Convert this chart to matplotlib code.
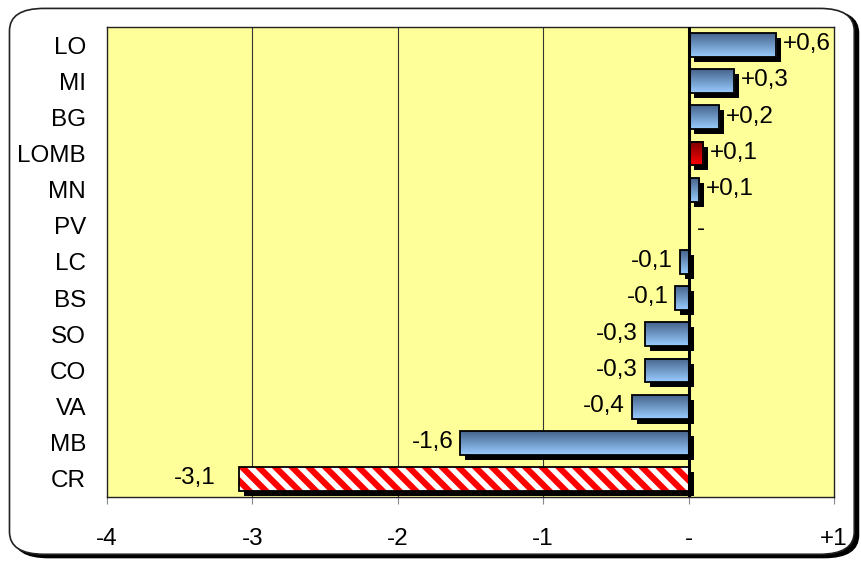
import numpy as np
import matplotlib
matplotlib.use('Agg')
import matplotlib.pyplot as plt
import matplotlib.transforms as mtransforms
from matplotlib.patches import FancyBboxPatch
from matplotlib.colors import LinearSegmentedColormap

plt.rcParams['font.family'] = ['Liberation Sans', 'DejaVu Sans']
plt.rcParams['hatch.linewidth'] = 4.0

# Dati
province = ['LO', 'MI', 'BG', 'LOMB', 'MN', 'PV', 'LC', 'BS', 'SO', 'CO', 'VA', 'MB', 'CR']
valori = [0.6, 0.31, 0.21, 0.10, 0.07, 0.0, -0.06, -0.09, -0.30, -0.30, -0.39, -1.57, -3.09]
etichette = ['+0,6', '+0,3', '+0,2', '+0,1', '+0,1', '-', '-0,1', '-0,1', '-0,3', '-0,3', '-0,4', '-1,6', '-3,1']
tick_x = [-4, -3, -2, -1, 0, 1]
tick_lab = ['-4', '-3', '-2', '-1', '-', '+1']

fs = 17.5

fig = plt.figure(figsize=(8.62, 5.61), dpi=100)
fig.patch.set_facecolor('white')

# cornice arrotondata con ombra
ombra = FancyBboxPatch((0.016, 0.006), 0.98, 0.975, boxstyle='round,pad=0,rounding_size=0.04',
                       transform=fig.transFigure, facecolor='black', edgecolor='black', zorder=0)
cornice = FancyBboxPatch((0.011, 0.012), 0.98, 0.973, boxstyle='round,pad=0,rounding_size=0.04',
                         transform=fig.transFigure, facecolor='white', edgecolor='#222222', lw=1.2, zorder=1)
fig.patches.extend([ombra, cornice])

ax = fig.add_axes([0.124, 0.114, 0.8435, 0.838])
ax.set_facecolor('#FFFF99')
ax.set_zorder(2)

ypos = np.arange(len(province))[::-1]
h = 0.66
shadow_tr = ax.transData + mtransforms.ScaledTranslation(5/100, -5/100, fig.dpi_scale_trans)

blu = LinearSegmentedColormap.from_list('blu', ['#46648C', '#99CCFF'])
rosso = LinearSegmentedColormap.from_list('rosso', ['#7A0000', '#FF0000'])
grad = np.linspace(0, 1, 64).reshape(-1, 1)

for p, v, y, lab in zip(province, valori, ypos, etichette):
    if v != 0:
        # ombra
        ax.barh(y, v, height=h, color='black', transform=shadow_tr, zorder=3)
        if p == 'CR':
            ax.barh(y, v, height=h, color='red', edgecolor='white', hatch='\\\\', lw=0, zorder=4)
        else:
            cm = rosso if p == 'LOMB' else blu
            ax.imshow(grad, cmap=cm, aspect='auto', extent=(min(0, v), max(0, v), y - h/2, y + h/2),
                      origin='upper', zorder=4, interpolation='bilinear')
        ax.barh(y, v, height=h, fill=False, edgecolor='black', lw=1.3, zorder=5)
    if v > 0:
        ax.annotate(lab, (v, y), xytext=(5, 0.5), textcoords='offset points', ha='left', va='center', fontsize=fs)
    elif v < 0:
        dx = -17 if p == 'CR' else -5
        ax.annotate(lab, (v, y), xytext=(dx, 0.5), textcoords='offset points', ha='right', va='center', fontsize=fs)
    else:
        ax.annotate(lab, (v, y - 0.1), xytext=(6, 0), textcoords='offset points', ha='left', va='center', fontsize=fs)

ax.axvline(0, color='black', lw=2.2, zorder=6)
for t in [-3, -2, -1]:
    ax.axvline(t, color='#333333', lw=0.8, zorder=1)

ax.set_xlim(-4, 1)
ax.set_ylim(-0.5, len(province) - 0.5)
ax.set_xticks(tick_x)
ax.set_xticklabels(tick_lab, fontsize=fs)
ax.set_yticks(ypos)
ax.set_yticklabels(province, fontsize=fs)
ax.tick_params(axis='y', length=0, pad=15)
ax.tick_params(axis='x', length=5, color='#888888', pad=17)
for s in ax.spines.values():
    s.set_color('#222222')
    s.set_linewidth(1)

plt.savefig('out.png', dpi=100)
